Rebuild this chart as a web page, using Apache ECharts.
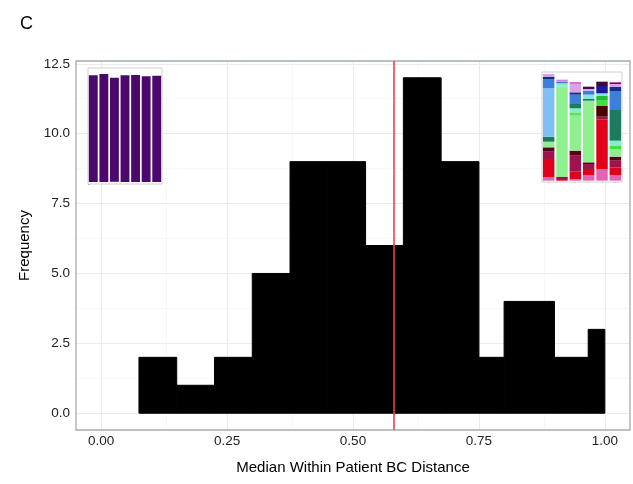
<!DOCTYPE html>
<html>
<head>
<meta charset="utf-8">
<script src="https://cdn.jsdelivr.net/npm/echarts@6/dist/echarts.min.js"></script>
<style>html,body{margin:0;padding:0;background:#fff}#c{width:633px;height:484px}</style>
</head>
<body>
<div id="c"></div>
<script>
// ---- main histogram data ----
const binEdges = [0.075, 0.15, 0.225, 0.3, 0.375, 0.45, 0.525, 0.6, 0.675, 0.75, 0.8, 0.9, 0.967, 1.0];
const binCounts = [2, 1, 2, 5, 9, 9, 6, 12, 9, 2, 4, 2, 3];
const medianLine = 0.58;
const xTicks = [0, 0.25, 0.5, 0.75, 1.0];
const xMinor = [0.125, 0.375, 0.625, 0.875];
const yTicks = [0, 2.5, 5, 7.5, 10, 12.5];
const yMinor = [1.25, 3.75, 6.25, 8.75, 11.25];

// ---- left inset: 7 stacked bars (bottom segment, top segment) ----
const leftInsetCats = ['1', '2', '3', '4', '5', '6', '7'];
const leftInsetBottom = [0, 0, 3, 0, 0, 0, 0];
const leftInsetTop = [320, 324, 310, 320, 321, 317, 319];

// ---- right inset: 6 stacked bars, segments bottom-to-top ----
const rightInsetCats = ['1', '2', '3', '4', '5', '6'];
const rBar1 = [10, 55, 22, 13, 17, 15, 145, 28, 7, 8];
const rBar2 = [5, 7, 270, 10, 5, 6];
const rBar3 = [5, 22, 48, 15, 105, 10, 12, 13, 28, 7, 25, 6];
const rBar4 = [17, 18, 15, 5, 185, 5, 13, 12, 5, 7];
const rBar5 = [34, 150, 8, 32, 16, 14, 8, 22, 13];
const rBar6 = [17, 23, 20, 12, 22, 10, 16, 92, 57, 13, 8, 5];

const rBar1Colors = ['#e066b3', '#e0001a', '#a0124d', '#5c0015', '#8ff08f', '#1e7a5e', '#7fbff5', '#3b7fd9', '#1a2a8a', '#d9a3e6'];
const rBar2Colors = ['#e0001a', '#a0124d', '#8ff08f', '#80f0c8', '#3b7fd9', '#d080e8'];
const rBar3Colors = ['#e066b3', '#e0001a', '#a0124d', '#5c0015', '#8ff08f', '#5ee05e', '#80f0c8', '#1e7a5e', '#3b7fd9', '#1a2a8a', '#d9a3e6', '#e070d0'];
const rBar4Colors = ['#e066b3', '#e0001a', '#a0124d', '#5c0015', '#8ff08f', '#1e7a5e', '#80e6e6', '#3b7fd9', '#d9a3e6', '#4a0a4a'];
const rBar5Colors = ['#e066b3', '#e0001a', '#a0124d', '#4d0000', '#40e040', '#1fbf2f', '#80e6e6', '#1a1aa0', '#3d0a3d'];
const rBar6Colors = ['#e066b3', '#e0001a', '#a0124d', '#5c0015', '#8ff08f', '#40e040', '#80f0c8', '#1e7a5e', '#3b7fd9', '#1a2a8a', '#d9a3e6', '#800080'];

const rBars = [rBar1, rBar2, rBar3, rBar4, rBar5, rBar6];
const rColors = [rBar1Colors, rBar2Colors, rBar3Colors, rBar4Colors, rBar5Colors, rBar6Colors];

const histData = binCounts.map((c, i) => [binEdges[i], binEdges[i + 1], c]);

const gridLines = [];
xMinor.forEach(v => gridLines.push({ xAxis: v, lineStyle: { color: '#f4f4f4', width: 0.6, type: 'solid' } }));
yMinor.forEach(v => gridLines.push({ yAxis: v, lineStyle: { color: '#f4f4f4', width: 0.6, type: 'solid' } }));
xTicks.forEach(v => gridLines.push({ xAxis: v, lineStyle: { color: '#ebebeb', width: 1, type: 'solid' } }));
yTicks.forEach(v => gridLines.push({ yAxis: v, lineStyle: { color: '#ebebeb', width: 1, type: 'solid' } }));

const maxLayers = Math.max(...rBars.map(b => b.length));
const rightSeries = [];
for (let k = 0; k < maxLayers; k++) {
  rightSeries.push({
    type: 'bar', xAxisIndex: 2, yAxisIndex: 2, stack: 'r', barCategoryGap: '14%',
    silent: true, z: 6,
    data: rBars.map((b, i) => ({ value: k < b.length ? b[k] : 0, itemStyle: { color: k < b.length ? rColors[i][k] : 'transparent' } }))
  });
}

const font = 'Liberation Sans, Arial, Helvetica, sans-serif';
const chart = echarts.init(document.getElementById('c'), null, { renderer: 'canvas' });
chart.setOption({
  animation: false,
  backgroundColor: '#fff',
  title: { text: 'C', left: 15, top: 10, textStyle: { fontFamily: font, fontSize: 18, fontWeight: 'normal', color: '#000' } },
  grid: [
    { left: 76, top: 61, width: 554, height: 369, show: true, borderColor: '#a3adad', borderWidth: 1.3, backgroundColor: 'transparent', z: 3 },
    { left: 88, top: 68, width: 74, height: 116, show: true, borderColor: '#d0d0d0', borderWidth: 1, backgroundColor: '#fff', z: 4 },
    { left: 542, top: 72, width: 80, height: 110, show: true, borderColor: '#d0d0d0', borderWidth: 1, backgroundColor: '#fff', z: 4 }
  ],
  xAxis: [
    {
      type: 'value', gridIndex: 0, min: -0.05, max: 1.05,
      name: 'Median Within Patient BC Distance', nameLocation: 'middle', nameGap: 30,
      nameTextStyle: { fontFamily: font, fontSize: 15, color: '#000' },
      axisLine: { show: false }, splitLine: { show: false },
      axisTick: { show: true, length: 4, customValues: xTicks, lineStyle: { color: '#333', width: 1 } },
      axisLabel: { customValues: xTicks, margin: 4, fontFamily: font, fontSize: 13.5, color: '#222', formatter: v => v.toFixed(2) }
    },
    {
      type: 'category', gridIndex: 1, data: leftInsetCats,
      axisLine: { show: false }, splitLine: { show: false },
      axisTick: { show: true, alignWithLabel: true, length: 2, lineStyle: { color: '#555', width: 0.6 } },
      axisLabel: { show: false }
    },
    {
      type: 'category', gridIndex: 2, data: rightInsetCats,
      axisLine: { show: false }, splitLine: { show: false },
      axisTick: { show: true, alignWithLabel: true, length: 2, lineStyle: { color: '#555', width: 0.6 } },
      axisLabel: { show: false }
    }
  ],
  yAxis: [
    {
      type: 'value', gridIndex: 0, min: -0.6, max: 12.6,
      name: 'Frequency', nameLocation: 'middle', nameGap: 44, nameRotate: 90,
      nameTextStyle: { fontFamily: font, fontSize: 15, color: '#000' },
      axisLine: { show: false }, splitLine: { show: false },
      axisTick: { show: true, length: 4, customValues: yTicks, lineStyle: { color: '#333', width: 1 } },
      axisLabel: { customValues: yTicks, margin: 6, fontFamily: font, fontSize: 13.5, color: '#222', formatter: v => v.toFixed(1) }
    },
    {
      type: 'value', gridIndex: 1, min: -6, max: 342, interval: 72,
      axisLine: { show: false }, splitLine: { show: false }, axisLabel: { show: false },
      axisTick: { show: true, inside: true, length: 2, lineStyle: { color: '#777', width: 0.6 } }
    },
    {
      type: 'value', gridIndex: 2, min: -4, max: 326,
      axisLine: { show: false }, splitLine: { show: false }, axisLabel: { show: false },
      axisTick: { show: false }
    }
  ],
  series: [
    {
      type: 'line', xAxisIndex: 0, yAxisIndex: 0, data: [], silent: true, z: 1,
      markLine: { silent: true, symbol: ['none', 'none'], label: { show: false }, z: 1, animation: false, data: gridLines }
    },
    {
      type: 'custom', xAxisIndex: 0, yAxisIndex: 0, z: 2, silent: true,
      encode: { x: [0, 1], y: 2 },
      data: histData,
      renderItem: function (params, api) {
        const p0 = api.coord([api.value(0), api.value(2)]);
        const p1 = api.coord([api.value(1), 0]);
        return {
          type: 'rect',
          shape: { x: p0[0], y: p0[1], width: p1[0] - p0[0], height: p1[1] - p0[1] },
          style: { fill: '#000', stroke: '#000', lineWidth: 1 }
        };
      },
      markLine: {
        silent: true, symbol: ['none', 'none'], label: { show: false }, z: 10, animation: false,
        lineStyle: { color: '#e8414a', width: 1.6, type: 'solid' },
        data: [{ xAxis: medianLine }]
      }
    },
    {
      type: 'bar', xAxisIndex: 1, yAxisIndex: 1, stack: 'l', barCategoryGap: '16%', silent: true, z: 6,
      itemStyle: { color: '#c000c0' }, data: leftInsetBottom
    },
    {
      type: 'bar', xAxisIndex: 1, yAxisIndex: 1, stack: 'l', barCategoryGap: '16%', silent: true, z: 6,
      itemStyle: { color: '#4b0a6b' }, data: leftInsetTop
    },
    ...rightSeries
  ]
});
</script>
</body>
</html>
